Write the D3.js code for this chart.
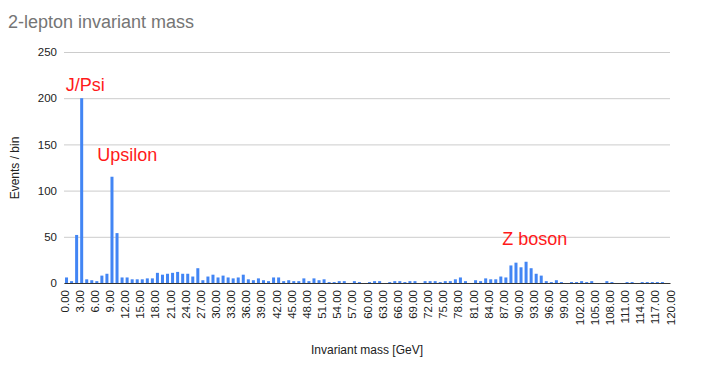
<!DOCTYPE html>
<html>
<head>
<meta charset="utf-8">
<script src="https://cdn.jsdelivr.net/npm/d3@7"></script>
<style>
  body { margin: 0; background: #fff; }
  text { font-family: "Liberation Sans", Arial, sans-serif; }
</style>
</head>
<body>
<script>
// events per 1 GeV bin, bins start at 0 GeV
var binWidth = 1;
var counts = [
  6, 2, 52, 200, 4, 3, 2, 8, 10, 115,
  54, 6, 6, 4, 4, 4, 5, 5, 11, 9,
  10, 11, 12, 10, 10, 7, 16, 3, 7, 9,
  6, 8, 6, 5, 6, 9, 4, 3, 5, 3,
  2, 6, 6, 2, 3, 2, 2, 5, 2, 5,
  3, 4, 1, 1, 2, 2, 0, 2, 1, 0,
  1, 2, 2, 0, 1, 2, 2, 1, 2, 2,
  0, 2, 2, 2, 1, 2, 2, 4, 6, 2,
  0, 3, 2, 5, 4, 4, 7, 6, 19, 22,
  17, 23, 16, 10, 8, 2, 1, 3, 1, 0,
  1, 1, 2, 1, 2, 0, 0, 2, 1, 0,
  0, 1, 1, 0, 1, 1, 1, 1, 1, 0
];
var xTicks = [0, 3, 6, 9, 12, 15, 18, 21, 24, 27, 30, 33, 36, 39, 42, 45, 48, 51, 54, 57, 60,
  63, 66, 69, 72, 75, 78, 81, 84, 87, 90, 93, 96, 99, 102, 105, 108, 111, 114, 117, 120];
var yTicks = [0, 50, 100, 150, 200, 250];
// annotation text, anchored at (mass, events)
var notes = [
  {label: "J/Psi", mass: 0.35, events: 208},
  {label: "Upsilon", mass: 6.6, events: 132},
  {label: "Z boson", mass: 86.8, events: 41}
];

var W = 710, H = 365;
var svg = d3.select("body").append("svg")
  .attr("width", W)
  .attr("height", H);

var x = d3.scaleLinear().domain([0, 120]).range([64, 670]);
var y = d3.scaleLinear().domain([0, 250]).range([283, 52]);

// title
svg.append("text")
  .attr("x", 8).attr("y", 28)
  .attr("fill", "#757575")
  .style("font-size", "18px")
  .text("2-lepton invariant mass");

// gridlines + y labels
var yAxis = svg.append("g")
  .attr("transform", "translate(64,0)")
  .call(d3.axisLeft(y).tickValues(yTicks).tickSize(-(670 - 64)).tickPadding(7));
yAxis.select(".domain").remove();
yAxis.selectAll(".tick line").attr("stroke", "#cccccc");
yAxis.selectAll(".tick text")
  .attr("fill", "#222")
  .style("font-size", "11.5px")
  .style("font-family", "Liberation Sans, Arial, sans-serif");

// bars
var bw = x(binWidth) - x(0);
svg.append("g").selectAll("rect")
  .data(counts)
  .join("rect")
  .attr("x", function (d, i) { return x(i * binWidth) + (bw - 3) / 2; })
  .attr("width", 3)
  .attr("y", function (d) { return y(d); })
  .attr("height", function (d) { return y(0) - y(d); })
  .attr("fill", "#4285f4");

// x axis
var xAxis = svg.append("g")
  .attr("transform", "translate(0,283)")
  .call(d3.axisBottom(x).tickValues(xTicks).tickSize(0).tickFormat(d3.format(".2f")));
xAxis.select(".domain").attr("stroke", "#333").attr("stroke-width", 1.2);
xAxis.selectAll(".tick text")
  .attr("fill", "#222")
  .style("font-size", "11.5px")
  .style("font-family", "Liberation Sans, Arial, sans-serif")
  .style("text-anchor", "end")
  .attr("transform", "rotate(-90)")
  .attr("x", -7)
  .attr("y", 0)
  .attr("dy", "0.35em");

// axis titles
svg.append("text")
  .attr("x", 367).attr("y", 354)
  .attr("text-anchor", "middle")
  .attr("fill", "#222")
  .style("font-size", "12px")
  .text("Invariant mass [GeV]");

svg.append("text")
  .attr("transform", "translate(19,168) rotate(-90)")
  .attr("text-anchor", "middle")
  .attr("fill", "#222")
  .style("font-size", "12px")
  .text("Events / bin");

// annotations
svg.append("g").selectAll("text")
  .data(notes)
  .join("text")
  .attr("x", function (d) { return x(d.mass); })
  .attr("y", function (d) { return y(d.events); })
  .attr("fill", "#ff1a1a")
  .style("font-size", "18px")
  .style("font-family", "'Comic Sans MS', 'Liberation Sans', sans-serif")
  .text(function (d) { return d.label; });
</script>
</body>
</html>
